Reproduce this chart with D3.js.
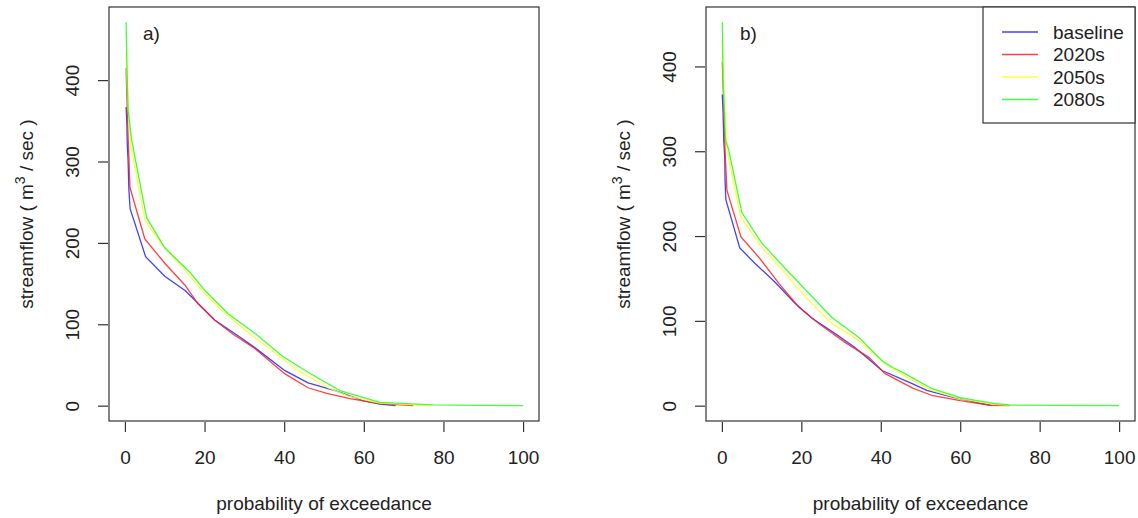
<html lang="en">
<head>
  <meta charset="UTF-8">
  <title>Flow duration curves</title>
  <script src="https://d3js.org/d3.v7.min.js"></script>
</head>
<style>
  body { margin: 0; background: #fff; }
  svg text { font-family: "Liberation Sans", Arial, Helvetica, sans-serif; fill: #222; }
</style>
<body>
<svg class="fdc" width="1138" height="518"></svg>
<script>
  // [probability of exceedance (%), streamflow (m3/sec)]
  const aBaseline = [[0.3,367],[0.5,345],[0.6,320],[0.8,300],[1.0,265],[1.3,242],[5.2,183],[10,159],[15.1,141.5],[18.1,127],[22.6,105],[28.4,86],[32.7,71],[40.2,43],[46,28],[52.8,18.5],[56.5,12],[60,6],[64,2],[68,0]];
  const a2020s = [[0.3,415],[0.4,395],[0.6,360],[0.8,330],[1.0,305],[1.26,268],[5,205],[10,175],[15.1,148],[18.3,125.5],[22.6,105],[26.9,88.6],[32.7,70],[40.2,39],[46,22],[50.7,15],[56.5,8.6],[64,2.5],[72.4,0]];
  const a2050s = [[0.3,435],[0.6,390],[1.0,350],[1.5,318],[5,228],[9.5,197],[15.8,162.5],[19.3,141.5],[24.4,117],[30.9,90],[36.9,68],[43.5,43],[51,22],[56,12],[64,3],[77,0]];
  const a2080s = [[0.3,471],[0.5,420],[0.8,363],[1.7,326],[5.45,231],[10,194],[16.3,164],[20.1,141.5],[25.9,113],[32.7,88.6],[39.5,61],[46,41],[54,18.5],[64,4],[77.4,1],[100,0]];

  const bBaseline = [[0.1,367],[0.3,345],[0.5,310],[0.75,290],[0.8,266],[1.0,243],[4.5,186],[8.3,168],[13.4,145.5],[18.4,120.7],[22.7,103],[28.5,85],[33.5,68.6],[40.3,41.4],[47.9,26],[51.6,18],[58,10],[64.2,4],[68,0]];
  const b2020s = [[0.1,405],[0.3,380],[0.6,330],[0.8,300],[1.26,254],[4.8,199],[9.3,175],[14.4,144],[19.4,116],[24.4,97],[31,74.6],[37,57],[41,38],[47.9,21],[52.9,12],[60,6],[67.5,0.5],[72.5,0]];
  const b2050s = [[0.1,432],[0.5,370],[1.26,302],[4.8,222],[10,187],[15.9,156],[21.9,124],[27.7,97],[34.5,77],[41,49.7],[47.9,29.6],[52.9,18],[60,8],[68,2],[72.5,0]];
  const b2080s = [[0.1,452],[0.3,385],[0.9,313],[1.7,302],[5,228],[10,192],[15.9,162],[21.9,132.5],[27.7,104],[34.5,80.5],[40.3,53],[43,45],[46,38],[52.9,20],[60,9.5],[68.3,2.7],[72.5,0.8],[100,0]];

  const seriesNames = ['baseline', '2020s', '2050s', '2080s'];
  const seriesColors = ['#2020ff', '#ff2020', '#ffff20', '#20ff20'];
  const xTicks = [0, 20, 40, 60, 80, 100];
  const yTicks = [0, 100, 200, 300, 400];
  const panelLabels = ['a)', 'b)'];

  const svg = d3.select('svg.fdc');
  const axisColor = '#333';

  const panels = [
    { label: panelLabels[0], left: 109, right: 539, data: [aBaseline, a2020s, a2050s, a2080s] },
    { label: panelLabels[1], left: 706, right: 1135, data: [bBaseline, b2020s, b2050s, b2080s] }
  ];
  const plotTop = 7, plotBottom = 421;

  panels.forEach((p, pi) => {
    const g = svg.append('g');
    // R style 4% padding on both axes
    const xScale = d3.scaleLinear().domain([-4, 104]).range([p.left, p.right]);
    const yMax = d3.max(p.data, s => d3.max(s, d => d[1]));
    const yScale = d3.scaleLinear().domain([-0.04 * yMax, 1.04 * yMax]).range([plotBottom, plotTop]);

    // curves
    const line = d3.line().x(d => xScale(d[0])).y(d => yScale(d[1]));
    p.data.forEach((s, i) => {
      g.append('path')
        .datum(s)
        .attr('d', line)
        .attr('fill', 'none')
        .attr('stroke', seriesColors[i])
        .attr('stroke-width', 1.3)
        .attr('opacity', 0.85);
    });

    // box
    g.append('rect')
      .attr('x', p.left).attr('y', plotTop)
      .attr('width', p.right - p.left).attr('height', plotBottom - plotTop)
      .attr('fill', 'none').attr('stroke', axisColor).attr('stroke-width', 1.2);

    // bottom axis
    const xAxis = g.append('g')
      .attr('transform', `translate(0,${plotBottom + 1})`)
      .call(d3.axisBottom(xScale).tickValues(xTicks).tickSize(10).tickSizeOuter(0));
    xAxis.select('.domain').remove();
    xAxis.selectAll('line').attr('stroke', axisColor).attr('stroke-width', 1.2);
    xAxis.selectAll('text').attr('font-size', 19).attr('fill', '#222').attr('dy', '0.35em').attr('y', 35);

    // left axis, labels rotated like R's default
    const yAxis = g.append('g')
      .attr('transform', `translate(${p.left - 1},0)`)
      .call(d3.axisLeft(yScale).tickValues(yTicks).tickSize(10).tickSizeOuter(0));
    yAxis.select('.domain').remove();
    yAxis.selectAll('line').attr('stroke', axisColor).attr('stroke-width', 1.2);
    yAxis.selectAll('text')
      .attr('font-size', 19).attr('fill', '#222')
      .attr('x', 0).attr('dy', '0.35em')
      .attr('text-anchor', 'middle')
      .attr('transform', 'translate(-36,0) rotate(-90)');

    // axis titles
    g.append('text')
      .attr('x', (xScale(0) + xScale(100)) / 2).attr('y', 503)
      .attr('dy', '0.35em').attr('text-anchor', 'middle').attr('font-size', 19)
      .text('probability of exceedance');

    const yt = g.append('text')
      .attr('transform', `translate(${p.left - 83},${(plotTop + plotBottom) / 2}) rotate(-90)`)
      .attr('dy', '0.35em').attr('text-anchor', 'middle').attr('font-size', 19);
    yt.append('tspan').text('streamflow ( m');
    yt.append('tspan').attr('font-size', 14).attr('baseline-shift', '55%').text('3');
    yt.append('tspan').text(' / sec )');

    // panel label
    g.append('text')
      .attr('x', p.left + 34).attr('y', 33)
      .attr('dy', '0.35em').attr('font-size', 19)
      .text(p.label);
  });

  // legend in panel b
  const legend = svg.append('g');
  const lx = 983, ly = 7, lw = 152, lh = 116;
  legend.append('rect')
    .attr('x', lx).attr('y', ly).attr('width', lw).attr('height', lh)
    .attr('fill', '#fff').attr('stroke', axisColor).attr('stroke-width', 1.2);
  seriesNames.forEach((name, i) => {
    const y = 32 + i * 22.5;
    legend.append('line')
      .attr('x1', 1002).attr('x2', 1038).attr('y1', y).attr('y2', y)
      .attr('stroke', seriesColors[i]).attr('stroke-width', 1.3).attr('opacity', 0.85);
    legend.append('text')
      .attr('x', 1053).attr('y', y).attr('dy', '0.35em').attr('font-size', 19)
      .text(name);
  });
</script>
</body>
</html>
